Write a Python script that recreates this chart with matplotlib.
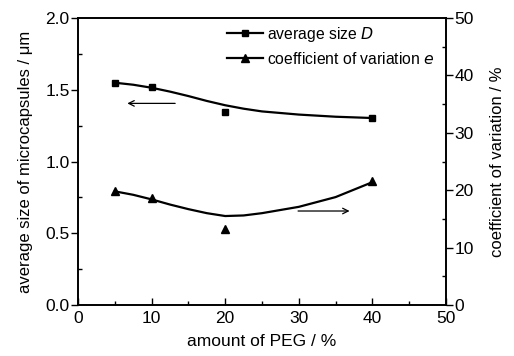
import matplotlib
matplotlib.use("Agg")
import matplotlib.pyplot as plt
from matplotlib.lines import Line2D
from matplotlib.ticker import MultipleLocator, FormatStrFormatter
from matplotlib import font_manager

names = {f.name for f in font_manager.fontManager.ttflist}
fam = 'Liberation Sans Narrow' if 'Liberation Sans Narrow' in names else 'Liberation Sans'
plt.rcParams['font.family'] = [fam, 'DejaVu Sans']

# measured data
peg = [5, 10, 20, 40]
size_D = [1.55, 1.52, 1.343, 1.305]
cv_e = [19.9, 18.6, 13.2, 21.65]

# fitted curves
fit_x = [5, 7.5, 10, 12.5, 15, 17.5, 20, 22.5, 25, 30, 35, 40]
fit_D = [1.549, 1.535, 1.514, 1.487, 1.456, 1.422, 1.392, 1.368, 1.349, 1.327, 1.312, 1.303]
fit_e = [19.8, 19.2, 18.4, 17.5, 16.7, 16.0, 15.5, 15.6, 16.0, 17.1, 18.8, 21.4]

fig = plt.figure(figsize=(5.14, 3.56), dpi=100)
ax = fig.add_axes([78/514, 51/356, 368/514, 287/356])
ax2 = ax.twinx()

ax.plot(fit_x, fit_D, color='black', lw=1.6)
ax.plot(peg, size_D, ls='none', marker='s', ms=5, color='black')
ax2.plot(fit_x, fit_e, color='black', lw=1.6)
ax2.plot(peg, cv_e, ls='none', marker='^', ms=6, color='black')

ax.set_xlim(0, 50)
ax.set_ylim(0, 2.0)
ax2.set_ylim(0, 50)
ax.xaxis.set_major_locator(MultipleLocator(10))
ax.xaxis.set_minor_locator(MultipleLocator(5))
ax.yaxis.set_major_locator(MultipleLocator(0.5))
ax.yaxis.set_minor_locator(MultipleLocator(0.25))
ax2.yaxis.set_major_locator(MultipleLocator(10))
ax2.yaxis.set_minor_locator(MultipleLocator(5))
ax.yaxis.set_major_formatter(FormatStrFormatter('%.1f'))

fs = 12.5
ax.tick_params(axis='x', which='both', direction='in', labelsize=fs, pad=4)
ax.tick_params(axis='x', which='major', length=5, width=1)
ax.tick_params(axis='x', which='minor', length=3, width=1)
ax.tick_params(axis='y', which='major', direction='out', length=5, width=1, labelsize=fs, pad=1)
ax.tick_params(axis='y', which='minor', direction='in', length=3, width=1)
ax2.tick_params(axis='y', which='major', direction='out', length=5, width=1, labelsize=fs, pad=1)
ax2.tick_params(axis='y', which='minor', direction='in', length=3, width=1)
for a in (ax, ax2):
    for s in a.spines.values():
        s.set_linewidth(1.2)

ax.set_xlabel('amount of PEG / %', fontsize=12.5, labelpad=6)
ax.set_ylabel('average size of microcapsules / μm', fontsize=12, labelpad=9)
ax2.set_ylabel('coefficient of variation / %', fontsize=12, labelpad=12)

ax.annotate('', xy=(6.7, 1.405), xytext=(13.2, 1.405),
            arrowprops=dict(arrowstyle='->', color='black', lw=0.9, shrinkA=0, shrinkB=0))
ax.annotate('', xy=(36.9, 0.655), xytext=(29.9, 0.655),
            arrowprops=dict(arrowstyle='->', color='black', lw=0.9, shrinkA=0, shrinkB=0))

handles = [Line2D([], [], color='black', lw=1.6, marker='s', ms=5),
           Line2D([], [], color='black', lw=1.6, marker='^', ms=6)]
labels = ['average size $\\it{D}$', 'coefficient of variation $\\it{e}$']
ax.legend(handles, labels, loc='upper left', bbox_to_anchor=(0.375, 1.015), frameon=False,
          fontsize=11.3, handlelength=2.3, handletextpad=0.25, labelspacing=0.45, borderaxespad=0.3)

fig.savefig('out.png', dpi=100)
